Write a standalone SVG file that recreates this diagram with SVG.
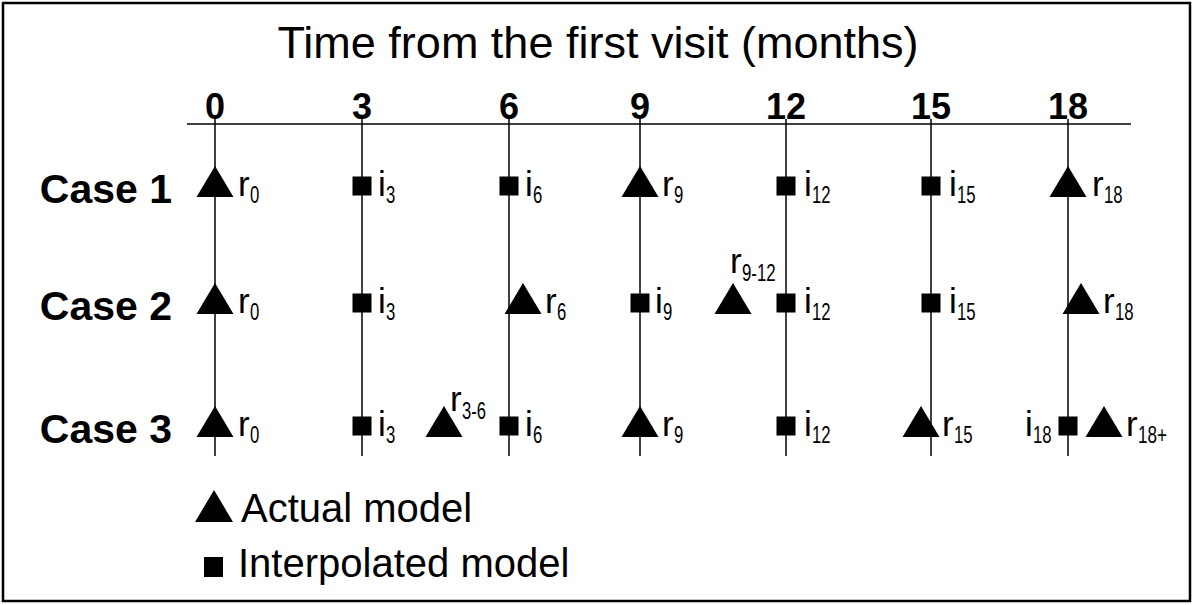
<svg xmlns="http://www.w3.org/2000/svg" xmlns:xlink="http://www.w3.org/1999/xlink" width="1194" height="605" viewBox="0 0 1194 605">
<style>
text{font-family:"Liberation Sans",Arial,sans-serif;fill:#000}
.title{font-size:45px}
.tick{font-size:36px;font-weight:bold;text-anchor:middle}
.case{font-size:41px;font-weight:bold;text-anchor:end}
.lbl{font-size:35px}
.sub{font-size:23px}
.leg{font-size:40px}
.ln{stroke:#000;stroke-width:1.5;fill:none}
</style>
<defs>
<path id="tri" d="M0,-20 L18.5,11 L-18.5,11 Z" fill="#000"/>
<rect id="sq" x="-9.5" y="-9.5" width="19" height="19" fill="#000"/>
</defs>
<rect x="3" y="3" width="1187" height="598" fill="#fff" stroke="#000" stroke-width="2.5"/>
<text class="title" x="598" y="58" text-anchor="middle">Time from the first visit (months)</text>
<g id="ticks">
<text class="tick" x="215" y="119">0</text>
<text class="tick" x="362" y="119">3</text>
<text class="tick" x="509" y="119">6</text>
<text class="tick" x="640" y="119">9</text>
<text class="tick" x="786" y="119">12</text>
<text class="tick" x="931" y="119">15</text>
<text class="tick" x="1068" y="119">18</text>
</g>
<g id="connectors">
<line class="ln" x1="187" y1="124" x2="1131" y2="124"/>
<line class="ln" x1="215" y1="119" x2="215" y2="456"/>
<line class="ln" x1="362" y1="119" x2="362" y2="456"/>
<line class="ln" x1="509" y1="119" x2="509" y2="456"/>
<line class="ln" x1="640" y1="119" x2="640" y2="456"/>
<line class="ln" x1="786" y1="119" x2="786" y2="456"/>
<line class="ln" x1="931" y1="119" x2="931" y2="456"/>
<line class="ln" x1="1068" y1="119" x2="1068" y2="456"/>
</g>
<g id="case-labels">
<text class="case" x="172" y="203">Case 1</text>
<text class="case" x="172" y="320">Case 2</text>
<text class="case" x="172" y="443">Case 3</text>
</g>
<!-- Case 1 -->
<g id="c1-r0"><use href="#tri" x="215" y="186"/><text class="lbl" x="238" y="196">r</text><text class="sub" x="250" y="203" textLength="9.3" lengthAdjust="spacingAndGlyphs">0</text></g>
<g id="c1-i3"><use href="#sq" x="362" y="186"/><text class="lbl" x="378" y="196">i</text><text class="sub" x="386" y="203" textLength="9.3" lengthAdjust="spacingAndGlyphs">3</text></g>
<g id="c1-i6"><use href="#sq" x="509" y="186"/><text class="lbl" x="525" y="196">i</text><text class="sub" x="533" y="203" textLength="9.3" lengthAdjust="spacingAndGlyphs">6</text></g>
<g id="c1-r9"><use href="#tri" x="640" y="186"/><text class="lbl" x="662" y="196">r</text><text class="sub" x="674" y="203" textLength="9.3" lengthAdjust="spacingAndGlyphs">9</text></g>
<g id="c1-i12"><use href="#sq" x="786" y="186"/><text class="lbl" x="804" y="196">i</text><text class="sub" x="812" y="203" textLength="18.6" lengthAdjust="spacingAndGlyphs">12</text></g>
<g id="c1-i15"><use href="#sq" x="931" y="186"/><text class="lbl" x="949" y="196">i</text><text class="sub" x="957" y="203" textLength="18.6" lengthAdjust="spacingAndGlyphs">15</text></g>
<g id="c1-r18"><use href="#tri" x="1068" y="186"/><text class="lbl" x="1092" y="196">r</text><text class="sub" x="1104" y="203" textLength="18.6" lengthAdjust="spacingAndGlyphs">18</text></g>
<!-- Case 2 -->
<g id="c2-r0"><use href="#tri" x="215" y="303"/><text class="lbl" x="238" y="313">r</text><text class="sub" x="250" y="320" textLength="9.3" lengthAdjust="spacingAndGlyphs">0</text></g>
<g id="c2-i3"><use href="#sq" x="362" y="303"/><text class="lbl" x="378" y="313">i</text><text class="sub" x="386" y="320" textLength="9.3" lengthAdjust="spacingAndGlyphs">3</text></g>
<g id="c2-r6"><use href="#tri" x="523" y="303"/><text class="lbl" x="545" y="313">r</text><text class="sub" x="557" y="320" textLength="9.3" lengthAdjust="spacingAndGlyphs">6</text></g>
<g id="c2-i9"><use href="#sq" x="640" y="303"/><text class="lbl" x="655" y="313">i</text><text class="sub" x="663" y="320" textLength="9.3" lengthAdjust="spacingAndGlyphs">9</text></g>
<g id="c2-r9-12"><use href="#tri" x="733" y="303"/><text class="lbl" x="730" y="273">r</text><text class="sub" x="742" y="281" textLength="33.7" lengthAdjust="spacingAndGlyphs">9-12</text></g>
<g id="c2-i12"><use href="#sq" x="786" y="303"/><text class="lbl" x="804" y="313">i</text><text class="sub" x="812" y="320" textLength="18.6" lengthAdjust="spacingAndGlyphs">12</text></g>
<g id="c2-i15"><use href="#sq" x="931" y="303"/><text class="lbl" x="949" y="313">i</text><text class="sub" x="957" y="320" textLength="18.6" lengthAdjust="spacingAndGlyphs">15</text></g>
<g id="c2-r18"><use href="#tri" x="1081" y="303"/><text class="lbl" x="1103" y="313">r</text><text class="sub" x="1115" y="320" textLength="18.6" lengthAdjust="spacingAndGlyphs">18</text></g>
<!-- Case 3 -->
<g id="c3-r0"><use href="#tri" x="215" y="426"/><text class="lbl" x="238" y="436">r</text><text class="sub" x="250" y="443" textLength="9.3" lengthAdjust="spacingAndGlyphs">0</text></g>
<g id="c3-i3"><use href="#sq" x="362" y="426"/><text class="lbl" x="378" y="436">i</text><text class="sub" x="386" y="443" textLength="9.3" lengthAdjust="spacingAndGlyphs">3</text></g>
<g id="c3-r3-6"><use href="#tri" x="444" y="426"/><text class="lbl" x="450" y="411">r</text><text class="sub" x="462" y="419" textLength="24" lengthAdjust="spacingAndGlyphs">3-6</text></g>
<g id="c3-i6"><use href="#sq" x="509" y="426"/><text class="lbl" x="525" y="436">i</text><text class="sub" x="533" y="443" textLength="9.3" lengthAdjust="spacingAndGlyphs">6</text></g>
<g id="c3-r9"><use href="#tri" x="640" y="426"/><text class="lbl" x="662" y="436">r</text><text class="sub" x="674" y="443" textLength="9.3" lengthAdjust="spacingAndGlyphs">9</text></g>
<g id="c3-i12"><use href="#sq" x="786" y="426"/><text class="lbl" x="804" y="436">i</text><text class="sub" x="812" y="443" textLength="18.6" lengthAdjust="spacingAndGlyphs">12</text></g>
<g id="c3-r15"><use href="#tri" x="921" y="426"/><text class="lbl" x="942" y="436">r</text><text class="sub" x="954" y="443" textLength="18.6" lengthAdjust="spacingAndGlyphs">15</text></g>
<g id="c3-i18"><use href="#sq" x="1068" y="426"/><text class="lbl" x="1025" y="436">i</text><text class="sub" x="1033" y="443" textLength="18.6" lengthAdjust="spacingAndGlyphs">18</text></g>
<g id="c3-r18plus"><use href="#tri" x="1104" y="426"/><text class="lbl" x="1126" y="436">r</text><text class="sub" x="1138" y="443" textLength="29" lengthAdjust="spacingAndGlyphs">18+</text></g>
<!-- Legend -->
<g id="legend-actual"><path d="M214,490 L233,522 L195,522 Z" fill="#000"/><text class="leg" x="241" y="522">Actual model</text></g>
<g id="legend-interp"><rect x="204" y="557" width="19" height="20" fill="#000"/><text class="leg" x="238" y="577">Interpolated model</text></g>
</svg>
